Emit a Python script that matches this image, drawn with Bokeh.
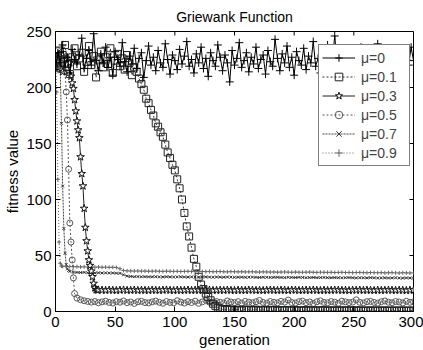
import math
from bokeh.plotting import figure
from bokeh.models import Range1d, FixedTicker, Legend, LegendItem
from bokeh.embed import file_html
from bokeh.resources import INLINE

# ---------------- data ----------------
title_text = "Griewank Function"
x_ticks = [0, 50, 100, 150, 200, 250, 300]
y_ticks = [0, 50, 100, 150, 200, 250]
labels = ["\u03bc=0", "\u03bc=0.1", "\u03bc=0.3", "\u03bc=0.5", "\u03bc=0.7", "\u03bc=0.9"]

gen_mu0 = list(range(0, 301, 2))
fit_mu0 = [216, 231, 222, 238, 219, 227, 213, 234, 225, 221,
           229, 244, 217, 226, 233, 220, 248, 224, 215, 230,
           222, 236, 218, 227, 211, 232, 225, 219, 240, 223,
           214, 228, 221, 235, 217, 226, 231, 209, 224, 237,
           220, 227, 215, 233, 222, 218, 239, 225, 212, 229,
           224, 216, 234, 221, 228, 241, 219, 225, 213, 230,
           222, 236, 217, 226, 210, 231, 224, 219, 238, 227,
           215, 229, 222, 205, 233, 220, 226, 240, 218, 224,
           231, 214, 227, 221, 236, 217, 225, 229, 212, 233,
           223, 219, 243, 226, 215, 230, 222, 237, 218, 227,
           211, 232, 224, 220, 235, 216, 228, 222, 241, 219,
           226, 213, 231, 223, 238, 217, 225, 246, 221, 229,
           214, 233, 220, 227, 203, 230, 224, 218, 236, 222,
           228, 215, 232, 225, 219, 239, 223, 216, 230, 226,
           221, 234, 217, 228, 224, 213, 231, 225, 220, 236,
           224]

gen_mu01 = list(range(0, 301, 2))
fit_mu01 = [224, 233, 217, 229, 238, 221, 212, 227, 235, 219,
            226, 231, 214, 223, 237, 220, 228, 209, 225, 232,
            218, 227, 221, 235, 213, 224, 230, 219, 226, 216,
            229, 222, 211, 218, 214,
            208, 203, 198, 190, 186, 180, 175, 168, 165, 160,
            156, 149, 142, 137, 131, 126, 118, 110, 100, 88,
            76, 67, 57, 47, 40, 31, 24, 20, 16, 13,
            10, 7, 5, 3.5, 2.6,
            1.9, 1.5, 2.2, 1.3, 1.7, 1.1, 1.6, 1.4, 0.9, 1.8,
            1.2, 1.5, 1.0, 1.3, 1.7, 0.8, 1.2, 1.4, 1.1, 0.9,
            1.5, 1.0, 1.3, 0.7, 1.2, 1.1, 0.9, 1.4, 1.0, 0.8,
            1.2, 0.9, 1.1, 0.7, 1.0, 1.3, 0.8, 0.9, 1.1, 0.7,
            1.0, 0.8, 1.2, 0.9, 0.7, 1.0, 0.8, 0.9, 1.1, 0.7,
            0.8, 1.0, 0.9, 0.8, 1.1, 0.7, 0.9, 1.0, 0.8, 0.6,
            0.9, 0.7, 1.0, 0.8, 0.6, 0.9, 0.7, 0.8, 1.0, 0.6,
            0.8, 0.7, 0.9, 0.6, 0.8, 0.7, 0.9, 0.6, 0.7, 0.8,
            0.7]

gen_mu03 = [0, 3, 6, 9] + list(range(12, 37)) + list(range(39, 301, 3))
fit_mu03 = [221, 230, 214, 226,
            222, 210, 204, 199, 189, 179, 170, 162, 155, 138,
            123, 112, 92, 75, 63, 54, 46, 41, 36, 31,
            25, 21, 19.5, 19, 19.3,
            19.1, 18.9, 19.2, 19.0, 18.8, 19.1, 19.3, 18.9, 19.0, 19.2,
            18.9, 19.1, 19.0, 18.8, 19.2, 19.0, 18.9, 19.1, 19.3, 19.0,
            18.8, 19.1, 18.9, 19.0, 19.2, 18.9, 19.1, 19.0, 18.8, 19.1,
            19.2, 18.9, 19.0, 19.1, 18.9, 19.2, 19.0, 18.8, 19.1, 19.0,
            18.9, 19.2, 19.1, 18.9, 19.0, 18.8, 19.1, 19.2, 19.0, 18.9,
            19.1, 19.0, 18.8, 19.2, 19.1, 18.9, 19.0, 19.1, 18.9, 19.2,
            19.0, 18.8, 19.1, 18.9, 19.0, 19.2, 19.1, 18.9, 19.0, 18.8,
            19.1, 19.0, 19.2, 18.9, 19.1, 19.0, 18.8, 19.1, 18.9, 19.0,
            19.2, 19.0, 18.9, 19.1, 19.0, 18.8, 19.1, 19.0]

gen_mu05 = list(range(0, 17)) + list(range(18, 301, 3))
fit_mu05 = [227, 219, 233, 224, 216, 229, 221, 226, 214, 196,
            171, 127, 79, 62, 46, 30, 16,
            12.0, 10.5, 9.6, 9.0, 8.4, 8.9, 7.8, 8.6, 9.2, 8.1,
            7.6, 8.8, 8.3, 9.4, 7.9, 8.5, 7.2, 8.7, 9.1, 8.0,
            7.7, 8.6, 9.3, 8.2, 7.4, 8.9, 8.1, 7.8, 9.6, 8.4,
            7.5, 8.8, 8.0, 9.2, 7.3, 8.6, 10.1, 8.3, 7.7, 8.9,
            8.2, 7.6, 9.4, 8.5, 7.9, 8.8, 7.4, 9.0, 8.3, 7.8,
            8.7, 9.8, 8.1, 7.5, 8.9, 8.2, 7.7, 9.1, 8.4, 10.2,
            8.0, 7.6, 8.8, 9.3, 7.9, 8.5, 7.2, 8.7, 9.5, 8.1,
            7.8, 8.9, 8.3, 7.4, 9.2, 8.6, 7.9, 8.4, 10.4, 8.2,
            7.7, 8.8, 9.0, 8.1, 7.5, 8.7, 9.4, 8.3, 7.8, 8.9,
            8.5, 7.6, 9.1, 8.2, 8.6]

gen_mu07 = list(range(0, 13)) + list(range(15, 301, 3))
fit_mu07 = [223, 231, 218, 226, 214, 168, 112, 74, 52, 42, 38, 36.5, 35.8,
            35.2, 34.9, 34.8, 34.9, 34.6, 34.7, 34.5, 34.6, 34.4, 34.5,
            34.3, 34.4, 34.2, 34.1, 32.8, 31.6,
            31.3, 31.1, 31.2, 31.0, 31.1, 30.9, 31.0, 31.1, 30.9, 30.8,
            31.0, 30.9, 30.8, 30.9, 31.0, 30.8, 30.7, 30.9, 30.8, 30.7,
            30.8, 30.9, 30.7, 30.6, 30.8, 30.7, 30.6, 30.8, 30.7, 30.5,
            30.6, 30.7, 30.5, 30.6, 30.7, 30.5, 30.4, 30.6, 30.5, 30.4,
            30.5, 30.6, 30.4, 30.3, 30.5, 30.4, 30.3, 30.5, 30.4, 30.2,
            30.3, 30.4, 30.2, 30.3, 30.4, 30.2, 30.1, 30.3, 30.2, 30.1,
            30.2, 30.3, 30.1, 30.0, 30.2, 30.1, 30.0, 30.2, 30.1, 29.9,
            30.0, 30.1, 29.9, 30.0, 30.1, 29.9, 29.8, 30.0, 29.9, 29.8]

gen_mu09 = list(range(0, 6)) + list(range(6, 301, 3))
fit_mu09 = [229, 196, 118, 62, 43, 40.6,
            40.3, 40.1, 40.2, 39.9, 40.0, 39.8, 39.9, 39.7, 39.8, 39.6,
            39.7, 39.5, 39.6, 39.4, 39.5, 39.3, 38.2, 36.6,
            36.3, 36.2, 36.1, 36.2, 36.0, 36.1, 35.9, 36.0, 36.1, 35.9,
            35.8, 36.0, 35.9, 35.8, 35.9, 35.7, 35.8, 35.9, 35.7, 35.6,
            35.8, 35.7, 35.6, 35.7, 35.5, 35.6, 35.7, 35.5, 35.4, 35.6,
            35.5, 35.4, 35.5, 35.3, 35.4, 35.5, 35.3, 35.2, 35.4, 35.3,
            35.2, 35.3, 35.1, 35.2, 35.3, 35.1, 35.0, 35.2, 35.1, 35.0,
            35.1, 35.2, 35.0, 34.9, 35.1, 35.0, 34.9, 35.0, 34.8, 34.9,
            35.0, 34.8, 34.9, 34.7, 34.8, 34.9, 34.7, 34.6, 34.8, 34.7,
            34.6, 34.7, 34.5, 34.6, 34.7, 34.5, 34.4, 34.6, 34.5, 34.4, 34.5]

FONT = "Liberation Sans"

# ---------------- figure ----------------
p = figure(width=423, height=350, output_backend="svg", toolbar_location=None,
           x_range=Range1d(0, 300), y_range=Range1d(0, 250),
           min_border_left=55, min_border_right=10, min_border_top=30,
           min_border_bottom=37, background_fill_color="white",
           border_fill_color="white")

p.title.text = title_text
p.title.align = "center"
p.title.text_font = FONT
p.title.text_font_size = "14px"
p.title.text_font_style = "normal"
p.title.text_color = "black"
p.title.standoff = 13

p.xgrid.grid_line_color = None
p.ygrid.grid_line_color = None
p.outline_line_color = "black"
p.outline_line_width = 1

for ax, ticks in ((p.xaxis[0], x_ticks), (p.yaxis[0], y_ticks)):
    ax.ticker = FixedTicker(ticks=ticks)
    ax.major_tick_in = 5
    ax.major_tick_out = 0
    ax.minor_tick_line_color = None
    ax.axis_line_color = "black"
    ax.major_tick_line_color = "black"
    ax.major_label_text_font = FONT
    ax.major_label_text_font_size = "15px"
    ax.major_label_text_color = "black"
    ax.axis_label_text_font = FONT
    ax.axis_label_text_font_size = "15px"
    ax.axis_label_text_font_style = "normal"
    ax.axis_label_text_color = "black"

p.xaxis.axis_label = "generation"
p.yaxis.axis_label = "fitness value"
p.xaxis.major_label_standoff = 5
p.yaxis.major_label_standoff = 4
p.xaxis.axis_label_standoff = 1
p.yaxis.axis_label_standoff = 2

# inward ticks on the top and right edges of the box
p.ray(x=x_ticks, y=[p.y_range.end] * len(x_ticks), length=4, length_units="screen",
      angle=-math.pi / 2, line_color="black", line_width=1)
p.ray(x=[p.x_range.end] * len(y_ticks), y=y_ticks, length=4, length_units="screen",
      angle=math.pi, line_color="black", line_width=1)

# ---------------- series ----------------
series = [
    # label, x, y, line color, dash, marker, marker size, marker color, fill
    (labels[5], gen_mu09, fit_mu09, "#666666", "1 2", "cross", 4, "#666666", None),
    (labels[4], gen_mu07, fit_mu07, "#444444", "2 1", "x", 4, "#333333", None),
    (labels[3], gen_mu05, fit_mu05, "#555555", "2 2", "circle", 6, "#5a5a5a", None),
    (labels[2], gen_mu03, fit_mu03, "#222222", "solid", "star", 8, "#111111", "white"),
    (labels[1], gen_mu01, fit_mu01, "#333333", "2 2", "square", 7, "#222222", None),
    (labels[0], gen_mu0, fit_mu0, "#000000", "solid", "cross", 8, "#000000", None),
]

rmap = {}
for lab, xs, ys, lc, dash, mk, ms, mc, fc in series:
    lr = p.line(xs, ys, line_color=lc, line_width=1, line_dash=dash)
    sr = p.scatter(xs, ys, marker=mk, size=ms, line_color=mc, line_width=1,
                   fill_color=fc)
    rmap[lab] = [lr, sr]

items = [LegendItem(label=lab, renderers=rmap[lab]) for lab in labels]
legend = Legend(items=items, location=(263, 145), margin=0, padding=3, spacing=0,
                glyph_width=33, glyph_height=19, label_height=19, label_width=45,
                label_standoff=6, label_text_font=FONT, label_text_font_size="14px",
                border_line_color="black", border_line_width=1,
                background_fill_color="white", background_fill_alpha=1.0)
p.add_layout(legend)

open("out.html", "w").write(file_html(p, INLINE))
